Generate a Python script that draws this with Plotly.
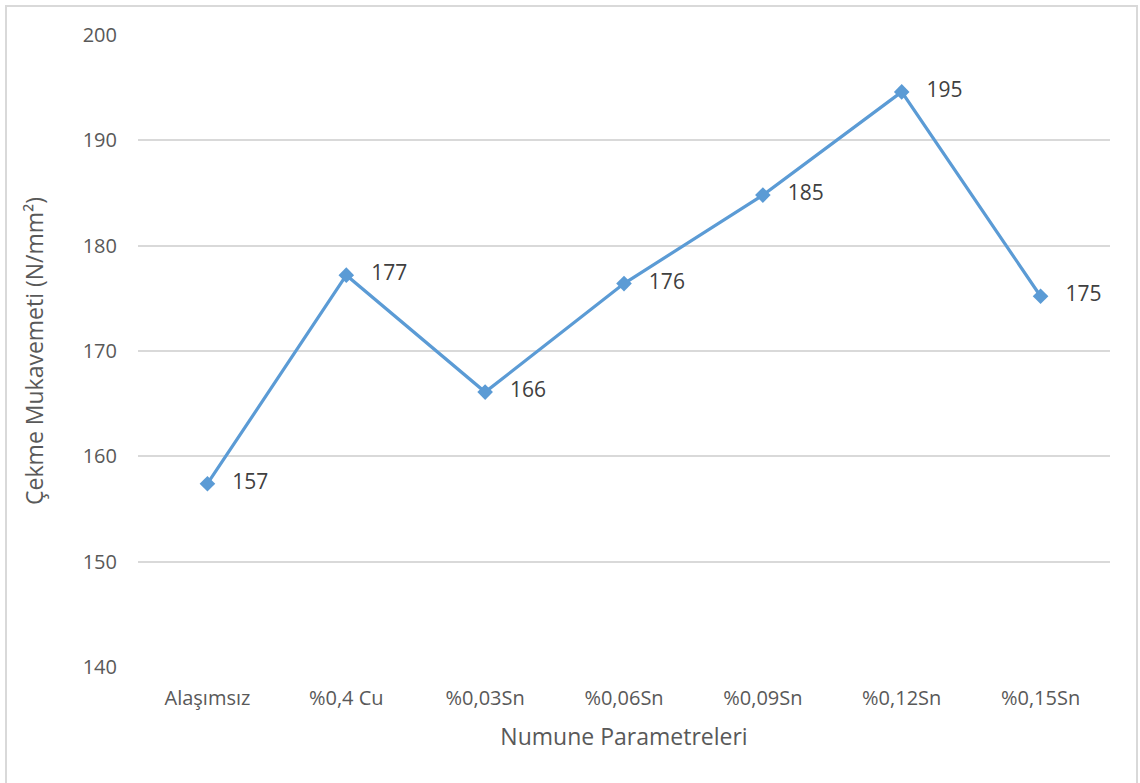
import plotly.graph_objects as go

# Sample groups and measured tensile strength (N/mm²)
categories = ["Alaşımsız", "%0,4 Cu", "%0,03Sn", "%0,06Sn", "%0,09Sn", "%0,12Sn", "%0,15Sn"]
strength = [157.4, 177.2, 166.1, 176.4, 184.8, 194.6, 175.2]
y_ticks = [140, 150, 160, 170, 180, 190, 200]

FONT = "Open Sans"
LINE_BLUE = "#5B9BD5"

fig = go.Figure()
fig.add_trace(go.Scatter(
    x=categories,
    y=strength,
    mode="lines+markers+text",
    line=dict(color=LINE_BLUE, width=3.2),
    marker=dict(symbol="diamond", size=12, color=LINE_BLUE),
    texttemplate="   %{y:.0f}",
    textposition="middle right",
    textfont=dict(family=FONT, size=21, color="#404040"),
    cliponaxis=False,
    showlegend=False,
))

fig.update_layout(
    width=1140,
    height=783,
    margin=dict(l=138, r=30, t=35, b=116),
    paper_bgcolor="white",
    plot_bgcolor="white",
    font=dict(family=FONT, color="#595959"),
    xaxis=dict(
        type="category",
        range=[-0.5, 6.5],
        showgrid=False,
        showline=False,
        zeroline=False,
        ticks="",
        tickfont=dict(family=FONT, size=20, color="#595959"),
        ticklabelstandoff=17,
        title=dict(text="Numune Parametreleri",
                   font=dict(family=FONT, size=23, color="#595959"),
                   standoff=18),
    ),
    yaxis=dict(
        range=[140, 200],
        tickvals=y_ticks,
        showgrid=True,
        gridcolor="#D9D9D9",
        gridwidth=1.5,
        showline=False,
        zeroline=False,
        ticks="",
        tickfont=dict(family=FONT, size=20, color="#595959"),
        ticklabelstandoff=20,
        title=dict(text="Çekme Mukavemeti (N/mm²)",
                   font=dict(family=FONT, size=23, color="#595959"),
                   standoff=32),
    ),
    shapes=[
        dict(type="rect", xref="paper", yref="paper",
             x0=(6 - 138) / 972, x1=(1137 - 138) / 972,
             y0=(667 - 800) / 632, y1=(667 - 6) / 632,
             line=dict(color="#D9D9D9", width=2), fillcolor="rgba(0,0,0,0)",
             layer="below"),
    ],
)

fig.write_html("out.html")
